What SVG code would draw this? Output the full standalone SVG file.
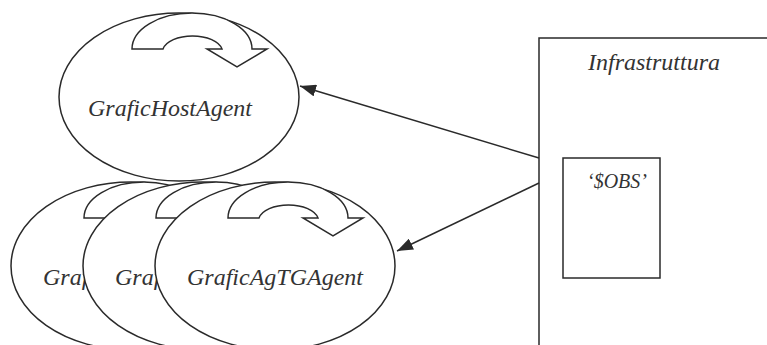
<svg xmlns="http://www.w3.org/2000/svg" width="767" height="345" viewBox="0 0 767 345">
  <style>
    .shape { fill: #ffffff; stroke: #2a2a2a; stroke-width: 1.5; }
    text { font-family: 'Liberation Serif', 'Times New Roman', Times, serif; font-style: italic; fill: #333333; }
    .agent { font-size: 24px; }
    .conn { stroke: #2a2a2a; stroke-width: 1.5; fill: none; marker-end: url(#head); }
  </style>
  <defs>
    <marker id="head" viewBox="0 0 16 12" refX="16" refY="6" markerWidth="16" markerHeight="12" markerUnits="userSpaceOnUse" orient="auto">
      <path d="M0,0 L16,6 L0,12 Z" fill="#2a2a2a"/>
    </marker>
    <!-- U-turn arrow, positioned relative to its ellipse centre -->
    <path id="uturn" d="M-47,-48 A60,36 0 0 1 73,-48 L88,-48 L58,-30 L28,-48 L43,-48 A30,16 0 0 0 -16,-48 Z"/>
  </defs>

  <rect width="767" height="345" fill="#ffffff"/>

  <g id="grafic-host-agent">
    <ellipse class="shape" cx="179" cy="97" rx="120" ry="84"/>
    <use href="#uturn" class="shape" transform="translate(179,97)"/>
    <text class="agent" x="170" y="116" text-anchor="middle">GraficHostAgent</text>
  </g>

  <!-- three stacked agents; the back two only show the start of their label -->
  <g id="grafic-agtg-agent-1">
    <ellipse class="shape" cx="131" cy="266" rx="120" ry="84"/>
    <use href="#uturn" class="shape" transform="translate(131,266)"/>
    <text class="agent" x="43" y="285">Graf</text>
  </g>

  <g id="grafic-agtg-agent-2">
    <ellipse class="shape" cx="203" cy="266" rx="120" ry="84"/>
    <use href="#uturn" class="shape" transform="translate(203,266)"/>
    <text class="agent" x="115" y="285">Graf</text>
  </g>

  <g id="grafic-agtg-agent-3">
    <ellipse class="shape" cx="275" cy="266" rx="120" ry="84"/>
    <use href="#uturn" class="shape" transform="translate(275,266)"/>
    <text class="agent" x="275" y="285" text-anchor="middle">GraficAgTGAgent</text>
  </g>

  <g id="infrastruttura">
    <rect class="shape" x="539" y="38" width="260" height="330"/>
    <text x="588" y="70" font-size="24">Infrastruttura</text>
    <g id="obs">
      <rect class="shape" x="563" y="158" width="97" height="120"/>
      <text x="587" y="188" font-size="20">‘$OBS’</text>
    </g>
  </g>

  <g id="connectors">
    <line class="conn" x1="539" y1="158" x2="300" y2="86"/>
    <line class="conn" x1="539" y1="183" x2="397" y2="251"/>
  </g>
</svg>
